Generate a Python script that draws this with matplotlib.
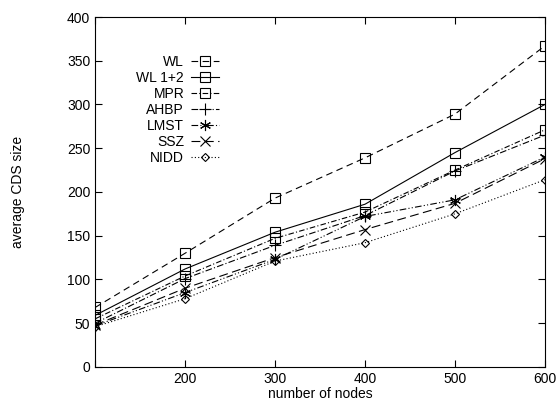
import numpy as np
import matplotlib.pyplot as plt

plt.rcParams['font.family'] = ['Liberation Sans', 'DejaVu Sans']

nodes = [100, 200, 300, 400, 500, 600]
wl = [68, 130, 193, 239, 289, 367]
wl12 = [59, 112, 154, 186, 245, 300]
mpr = [55, 104, 147, 177, 225, 271]
ahbp = [50, 101, 139, 173, 224, 265]
lmst = [47, 85, 123, 172, 191, 240]
ssz = [48, 90, 125, 157, 187, 238]
nidd = [46, 78, 121, 142, 175, 214]

fig = plt.figure(figsize=(5.6, 4.05), dpi=100)
ax = fig.add_axes([0.17, 0.094, 0.803, 0.864])

common = dict(color='black', lw=0.8, mfc='none', mec='black', mew=0.8)
ax.plot(nodes, wl, ls=(0, (6, 4)), marker='s', ms=6.5, label='WL', **common)
ax.plot(nodes, wl12, ls='-', marker='s', ms=6.5, label='WL 1+2', **common)
ax.plot(nodes, mpr, ls=(0, (5, 2, 1, 2)), marker='s', ms=6.5, label='MPR', **common)
ax.plot(nodes, ahbp, ls=(0, (6, 2, 1, 2)), marker='+', ms=8, label='AHBP', **common)
ax.plot(nodes, lmst, ls=(0, (6, 2, 1, 2, 1, 2)), marker=(6, 2, 0), ms=8, label='LMST', **common)
ax.plot(nodes, ssz, ls=(0, (8, 4)), marker='x', ms=7, label='SSZ', **common)
ax.plot(nodes, nidd, ls=(0, (1, 2)), marker='D', ms=4.5, label='NIDD', **common)

ax.set_xlim(100, 600)
ax.set_ylim(0, 400)
ax.set_xticks([100, 200, 300, 400, 500, 600])
ax.set_xticklabels(['', '200', '300', '400', '500', '600'])
ax.set_yticks(np.arange(0, 401, 50))
ax.tick_params(direction='in', top=True, right=True, length=5, labelsize=10)
ax.set_xlabel('number of nodes', fontsize=10, labelpad=1)
ax.set_ylabel('average CDS size', fontsize=10, labelpad=30)

leg = ax.legend(loc='upper left', bbox_to_anchor=(0.07, 0.92), frameon=False,
                markerfirst=False, fontsize=10, handlelength=2.0,
                labelspacing=0.15, handletextpad=0.5, borderaxespad=0.3)
for t in leg.get_texts():
    t.set_ha('right')
leg._legend_box.align = 'right'

fig.savefig('out.png', dpi=100)
